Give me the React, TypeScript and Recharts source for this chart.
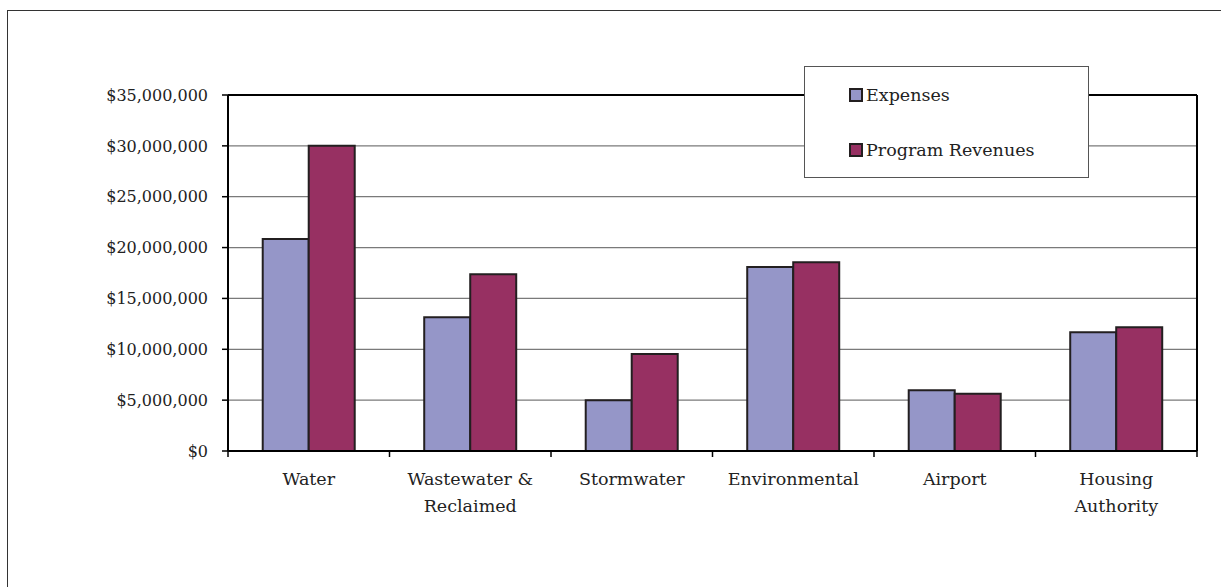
import { BarChart, Bar, XAxis, YAxis, CartesianGrid, ReferenceLine } from "recharts";

const categories = ["Water", "Wastewater &\nReclaimed", "Stormwater", "Environmental", "Airport", "Housing\nAuthority"];
const expenses = [20850000, 13150000, 5000000, 18100000, 5970000, 11670000];
const revenues = [30000000, 17370000, 9540000, 18550000, 5640000, 12160000];
const yTicks = [0, 5000000, 10000000, 15000000, 20000000, 25000000, 30000000, 35000000];

const EXP_COLOR = "#9596c8";
const REV_COLOR = "#973062";
const EDGE = "#231f20";
const FONT = "'DejaVu Serif', 'Liberation Serif', serif";

const data = categories.map((name, i) => ({ name, expenses: expenses[i], revenues: revenues[i] }));

const money = (v: number) => "$" + v.toLocaleString("en-US");

// label y arrives already shifted by tickSize + tickMargin (8px below the axis)
function CategoryTick(props: any) {
  const { x, y, payload, index } = props;
  const half = payload.offset ?? 0;
  const axisY = y - 8;
  const lines = String(payload.value).split("\n");
  return (
    <g>
      <line x1={x - half} x2={x - half} y1={axisY} y2={axisY + 6} stroke="#000" strokeWidth={1.5} />
      {index === categories.length - 1 && (
        <line x1={x + half} x2={x + half} y1={axisY} y2={axisY + 6} stroke="#000" strokeWidth={1.5} />
      )}
      <text x={x} y={axisY + 34} textAnchor="middle" fill="#222" fontFamily={FONT} fontSize={17.5}>
        {lines.map((l, i) => (
          <tspan key={i} x={x} dy={i === 0 ? 0 : 27}>
            {l}
          </tspan>
        ))}
      </text>
    </g>
  );
}

function LegendBox() {
  const items = [
    { label: "Expenses", color: EXP_COLOR },
    { label: "Program Revenues", color: REV_COLOR },
  ];
  return (
    <div
      style={{
        position: "absolute",
        left: 804,
        top: 66,
        width: 285,
        height: 112,
        background: "#fff",
        border: "1px solid #555",
        boxSizing: "border-box",
        paddingLeft: 44,
        paddingTop: 14,
        fontFamily: FONT,
        fontSize: 17.5,
        color: "#222",
      }}
    >
      {items.map((it, i) => (
        <div key={it.label} style={{ display: "flex", alignItems: "center", height: 28, marginBottom: i === 0 ? 27 : 0 }}>
          <span
            style={{
              display: "inline-block",
              width: 10,
              height: 10,
              background: it.color,
              border: "2px solid " + EDGE,
              marginRight: 3,
            }}
          />
          <span>{it.label}</span>
        </div>
      ))}
    </div>
  );
}

export default function App() {
  return (
    <div style={{ position: "absolute", left: 0, top: 0, width: 1221, height: 587, overflow: "hidden", background: "#fff" }}>
      <div
        style={{
          position: "absolute",
          left: 7,
          top: 10,
          width: 1240,
          height: 600,
          border: "1.5px solid #333",
        }}
      />
      <div style={{ position: "absolute", left: 0, top: 0 }}>
        <BarChart
          width={1221}
          height={587}
          data={data}
          margin={{ top: 95, right: 24, bottom: 0, left: 0 }}
          barCategoryGap="21.5%"
          barGap={0}
        >
          <CartesianGrid vertical={false} stroke="#7a7a7a" strokeWidth={1.2} />
          <XAxis
            dataKey="name"
            height={136}
            interval={0}
            axisLine={{ stroke: "#000", strokeWidth: 2 }}
            tickLine={false}
            tick={<CategoryTick />}
          />
          <YAxis
            width={228}
            domain={[0, 35000000]}
            ticks={yTicks}
            interval={0}
            tickFormatter={money}
            tickSize={6}
            tickMargin={14}
            axisLine={{ stroke: "#000", strokeWidth: 2 }}
            tickLine={{ stroke: "#000", strokeWidth: 1.5 }}
            tick={{ fill: "#222", fontFamily: FONT, fontSize: 16 }}
          />
          <ReferenceLine y={35000000} stroke="#000" strokeWidth={2} />
          <ReferenceLine x={categories[categories.length - 1]} position="end" stroke="#000" strokeWidth={2} />
          <Bar dataKey="expenses" name="Expenses" fill={EXP_COLOR} stroke={EDGE} strokeWidth={2} isAnimationActive={false} />
          <Bar dataKey="revenues" name="Program Revenues" fill={REV_COLOR} stroke={EDGE} strokeWidth={2} isAnimationActive={false} />
        </BarChart>
      </div>
      <LegendBox />
    </div>
  );
}
